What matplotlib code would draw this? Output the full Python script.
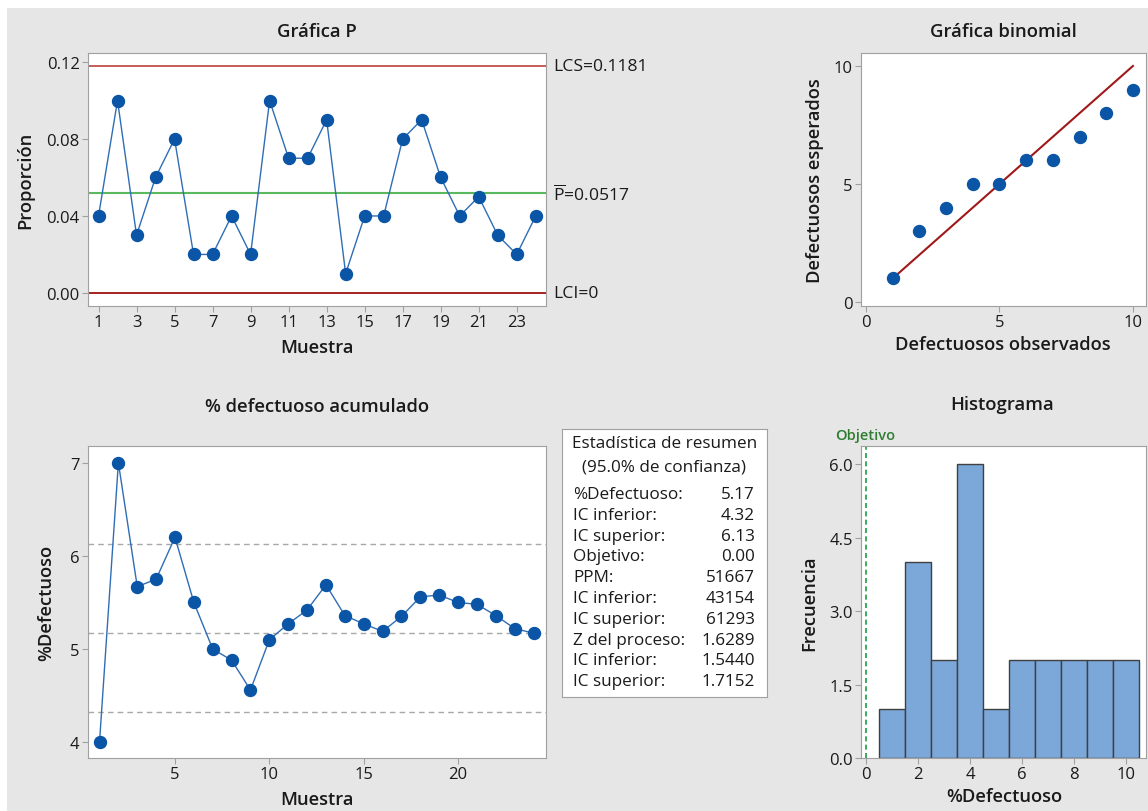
import numpy as np
import matplotlib.pyplot as plt
from matplotlib.patches import Rectangle
from matplotlib.transforms import blended_transform_factory

# proporcion defectuosa por muestra (n = 100)
muestra = np.arange(1, 25)
proporcion = [0.04, 0.10, 0.03, 0.06, 0.08, 0.02, 0.02, 0.04, 0.02, 0.10, 0.07, 0.07,
              0.09, 0.01, 0.04, 0.04, 0.08, 0.09, 0.06, 0.04, 0.05, 0.03, 0.02, 0.04]
LCS, P_BAR, LCI = 0.1181, 0.0517, 0.0

# % defectuoso acumulado
acumulado = [4.00, 7.00, 5.67, 5.75, 6.20, 5.50, 5.00, 4.88, 4.56, 5.10, 5.27, 5.42,
             5.69, 5.36, 5.27, 5.19, 5.35, 5.56, 5.58, 5.50, 5.48, 5.36, 5.22, 5.17]
IC_INF, PCT_DEF, IC_SUP = 4.32, 5.17, 6.13

# grafica binomial
observados = [1, 2, 3, 4, 5, 6, 7, 8, 9, 10]
esperados = [1, 3, 4, 5, 5, 6, 6, 7, 8, 9]

# histograma de %defectuoso
hist_centros = [1, 2, 3, 4, 5, 6, 7, 8, 9, 10]
hist_frec = [1, 4, 2, 6, 1, 2, 2, 2, 2, 2]
OBJETIVO = 0.0

resumen = [("%Defectuoso:", "5.17"), ("IC inferior:", "4.32"), ("IC superior:", "6.13"),
           ("Objetivo:", "0.00"), ("PPM:", "51667"), ("IC inferior:", "43154"),
           ("IC superior:", "61293"), ("Z del proceso:", "1.6289"), ("IC inferior:", "1.5440"),
           ("IC superior:", "1.7152")]

plt.rcParams['font.family'] = ['Open Sans', 'DejaVu Sans']
plt.rcParams['mathtext.fontset'] = 'custom'
plt.rcParams['mathtext.rm'] = 'Open Sans'

W, H = 1148, 812
BG = '#e6e6e6'
AZUL = '#0a55a5'
LINEA = '#2f6db5'
FRAME = '#a0a0a0'
TXT = '#1a1a1a'
TICK_FS = 12
LBL_FS = 13.2

fig = plt.figure(figsize=(W / 100, H / 100), dpi=100, facecolor=BG)
# borde blanco arriba y a la izquierda
fig.patches.append(Rectangle((0, 1 - 9 / H), 1, 9 / H, transform=fig.transFigure,
                             facecolor='white', edgecolor='none', zorder=-1))
fig.patches.append(Rectangle((0, 0), 7 / W, 1, transform=fig.transFigure,
                             facecolor='white', edgecolor='none', zorder=-1))


def caja(l, t, r, b):
    return fig.add_axes([l / W, 1 - b / H, (r - l) / W, (b - t) / H])


def estilo(ax):
    for s in ax.spines.values():
        s.set_color(FRAME)
    ax.tick_params(direction='out', length=4, color=FRAME, labelsize=TICK_FS, labelcolor=TXT, pad=2)


def titulo(x, y, s):
    fig.text(x / W, 1 - y / H, s, ha='center', va='center', fontsize=13.3,
             fontweight='semibold', color=TXT)


def ylab(x, y, s):
    fig.text(x / W, 1 - y / H, s, ha='center', va='center', rotation=90, fontsize=LBL_FS,
             fontweight='semibold', color=TXT)


def xlab(x, y, s):
    fig.text(x / W, 1 - y / H, s, ha='center', va='center', fontsize=LBL_FS,
             fontweight='semibold', color=TXT)


# --- Grafica P ---
ax1 = caja(88, 54, 546, 307)
estilo(ax1)
ax1.axhline(LCS, color='#c0504d', lw=1.3)
ax1.axhline(P_BAR, color='#5cb85c', lw=1.5)
ax1.axhline(LCI, color='#a01010', lw=1.3)
ax1.plot(muestra, proporcion, color=LINEA, lw=1, marker='o', ms=8.6, mfc=AZUL, mec=AZUL)
ax1.set_xlim(0.447, 24.54)
ax1.set_ylim(-0.0068, 0.1247)
ax1.set_xticks(range(1, 25, 2))
ax1.set_yticks([0.0, 0.04, 0.08, 0.12])
ax1.set_yticklabels(['0.00', '0.04', '0.08', '0.12'])
lim_tr = blended_transform_factory(fig.transFigure, ax1.transData)
for val, txt in ((LCS, 'LCS=0.1181'), (P_BAR, r'$\overline{\mathrm{P}}$=0.0517'), (LCI, 'LCI=0')):
    ax1.text(553 / W, val, txt, transform=lim_tr, va='center', fontsize=12.6, color=TXT,
             clip_on=False)
titulo(317, 32, 'Gráfica P')
xlab(317, 348, 'Muestra')
ylab(25, 180, 'Proporción')

# --- Grafica binomial ---
ax2 = caja(861, 54, 1146, 307)
estilo(ax2)
ax2.plot([observados[0], observados[-1]], [observados[0], observados[-1]], color='#a01818', lw=1.5)
ax2.plot(observados, esperados, 'o', ms=8.6, color=AZUL)
ax2.set_xlim(-0.19, 10.49)
ax2.set_ylim(-0.17, 10.55)
ax2.set_xticks([0, 5, 10])
ax2.set_yticks([0, 5, 10])
titulo(1003, 32, 'Gráfica binomial')
xlab(1003, 345, 'Defectuosos observados')
ylab(815, 181, 'Defectuosos esperados')

# --- % defectuoso acumulado ---
ax3 = caja(88, 447, 546, 759)
estilo(ax3)
for v in (IC_SUP, PCT_DEF, IC_INF):
    ax3.axhline(v, color='#a8a8a8', lw=1, ls=(0, (4, 3)))
ax3.plot(muestra, acumulado, color=LINEA, lw=1, marker='o', ms=8.6, mfc=AZUL, mec=AZUL)
ax3.set_xlim(0.39, 24.66)
ax3.set_ylim(3.83, 7.18)
ax3.set_xticks([5, 10, 15, 20])
ax3.set_yticks([4, 5, 6, 7])
titulo(317, 407, '% defectuoso acumulado')
xlab(317, 800, 'Muestra')
ylab(46, 603, '%Defectuoso')

# --- Estadistica de resumen ---
ax4 = caja(562, 430, 767, 698)
ax4.set_xticks([])
ax4.set_yticks([])
for s in ax4.spines.values():
    s.set_color(FRAME)
ax4.set_xlim(0, 205)
ax4.set_ylim(268, 0)
ax4.text(102.5, 14, 'Estadística de resumen', ha='center', va='center', fontsize=12.3, color=TXT)
ax4.text(102.5, 38, '(95.0% de confianza)', ha='center', va='center', fontsize=12.3, color=TXT)
for i, (k, v) in enumerate(resumen):
    yy = 65 + i * 20.8
    ax4.text(11, yy, k, ha='left', va='center', fontsize=12.3, color=TXT)
    ax4.text(193, yy, v, ha='right', va='center', fontsize=12.3, color=TXT)

# --- Histograma ---
ax5 = caja(861, 447, 1146, 759)
estilo(ax5)
ax5.bar(hist_centros, hist_frec, width=1, color='#7ba7d9', edgecolor='#404040', lw=1)
ax5.axvline(OBJETIVO, color='#1a9e3a', lw=1.2, ls=(0, (3, 2)))
ax5.set_xlim(-0.19, 10.77)
ax5.set_ylim(0, 6.37)
ax5.set_xticks([0, 2, 4, 6, 8, 10])
ax5.set_yticks([0.0, 1.5, 3.0, 4.5, 6.0])
ax5.set_yticklabels(['0.0', '1.5', '3.0', '4.5', '6.0'])
fig.text(865 / W, 1 - 436 / H, 'Objetivo', ha='center', va='center', fontsize=10.5,
         fontweight='semibold', color='#2e7d32')
titulo(1002, 405, 'Histograma')
xlab(1004, 797, '%Defectuoso')
ylab(809, 603, 'Frecuencia')

fig.savefig('out.png', dpi=100, facecolor=BG)
